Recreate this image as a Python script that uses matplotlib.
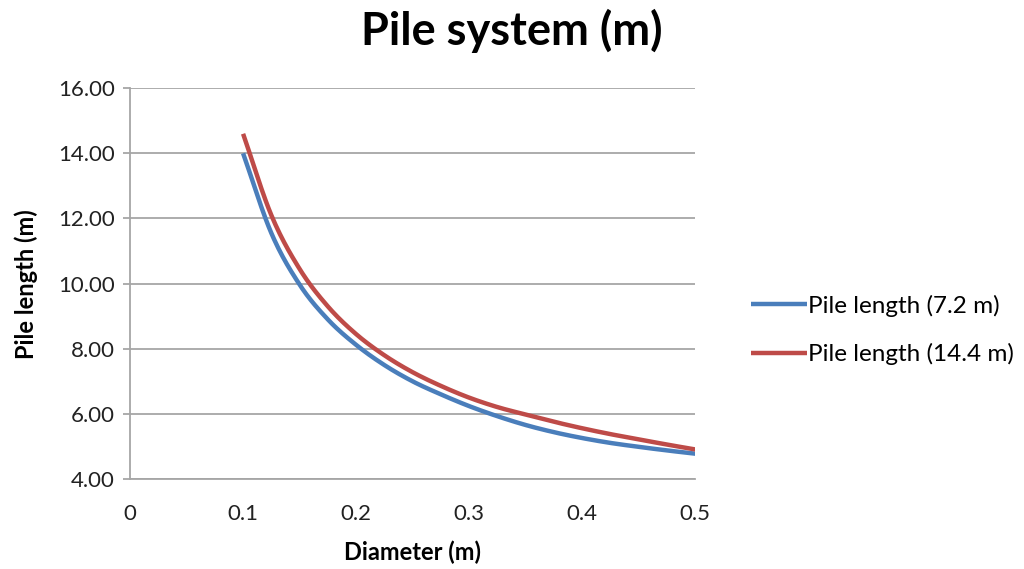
import numpy as np
import matplotlib
matplotlib.use("Agg")
import matplotlib.pyplot as plt

# valores
diametro = [0.100, 0.125, 0.150, 0.175, 0.200, 0.225, 0.250, 0.275, 0.300,
            0.325, 0.350, 0.375, 0.400, 0.425, 0.450, 0.475, 0.500]
comp_72 = [14.00, 11.55, 9.97, 8.90, 8.12, 7.50, 7.00, 6.60, 6.24,
           5.93, 5.66, 5.44, 5.26, 5.11, 4.99, 4.88, 4.78]
comp_144 = [14.60, 12.10, 10.45, 9.30, 8.45, 7.80, 7.28, 6.86, 6.50,
            6.21, 5.98, 5.76, 5.56, 5.38, 5.22, 5.06, 4.91]

x_ticks = [0, 0.1, 0.2, 0.3, 0.4, 0.5]
y_ticks = [4, 6, 8, 10, 12, 14, 16]


def suavizar(x, y, n=20):
    # linha suavizada tipo Excel (Catmull-Rom entre os pontos)
    x = np.asarray(x); y = np.asarray(y)
    px = np.concatenate([[2 * x[0] - x[1]], x, [2 * x[-1] - x[-2]]])
    py = np.concatenate([[2 * y[0] - y[1]], y, [2 * y[-1] - y[-2]]])
    xs, ys = [], []
    t = np.linspace(0, 1, n, endpoint=False)
    for i in range(1, len(px) - 2):
        for p, out in ((px, xs), (py, ys)):
            p0, p1, p2, p3 = p[i - 1], p[i], p[i + 1], p[i + 2]
            out.append(0.5 * ((2 * p1) + (-p0 + p2) * t
                              + (2 * p0 - 5 * p1 + 4 * p2 - p3) * t ** 2
                              + (-p0 + 3 * p1 - 3 * p2 + p3) * t ** 3))
    return np.append(np.concatenate(xs), x[-1]), np.append(np.concatenate(ys), y[-1])


plt.rcParams["font.family"] = ["Lato", "DejaVu Sans"]
cinza = "#a6a6a6"

fig = plt.figure(figsize=(10.24, 5.69), dpi=100)
ax = fig.add_axes([0.127, 0.158, 0.552, 0.687])

xa, ya = suavizar(diametro, comp_72)
xb, yb = suavizar(diametro, comp_144)
ax.plot(xa, ya, color="#4a7ebb", lw=3.2, label="Pile length (7.2 m)",
        solid_capstyle="butt")
ax.plot(xb, yb, color="#be4b48", lw=3.2, label="Pile length (14.4 m)",
        solid_capstyle="butt")

ax.set_xlim(0, 0.5)
ax.set_ylim(4, 16)
ax.set_xticks(x_ticks)
ax.set_xticklabels(["0", "0.1", "0.2", "0.3", "0.4", "0.5"])
ax.set_yticks(y_ticks)
ax.set_yticklabels([f"{v:.2f}" for v in y_ticks])
ax.yaxis.grid(True, color=cinza, lw=1.3)
ax.set_axisbelow(True)
for s in ["top", "right"]:
    ax.spines[s].set_visible(False)
for s in ["left", "bottom"]:
    ax.spines[s].set_color(cinza)
    ax.spines[s].set_linewidth(1.3)
ax.tick_params(axis="y", colors=cinza, labelcolor="#222222", length=5,
               width=1.3, labelsize=16, pad=6)
ax.tick_params(axis="x", length=0, labelcolor="#222222", labelsize=16, pad=18)

ax.set_xlabel("Diameter (m)", fontsize=17, fontweight="bold", labelpad=12)
ax.set_ylabel("Pile length (m)", fontsize=17, fontweight="bold", labelpad=14)
fig.text(0.5, 0.945, "Pile system (m)", fontsize=32.5, fontweight="bold",
         ha="center", va="center")

fig.legend(loc="center left", bbox_to_anchor=(0.712, 0.42), frameon=False,
           fontsize=17.5, handlelength=2.3, handletextpad=0.05, labelspacing=1.1)

fig.savefig("out.png", dpi=100)
plt.close(fig)
